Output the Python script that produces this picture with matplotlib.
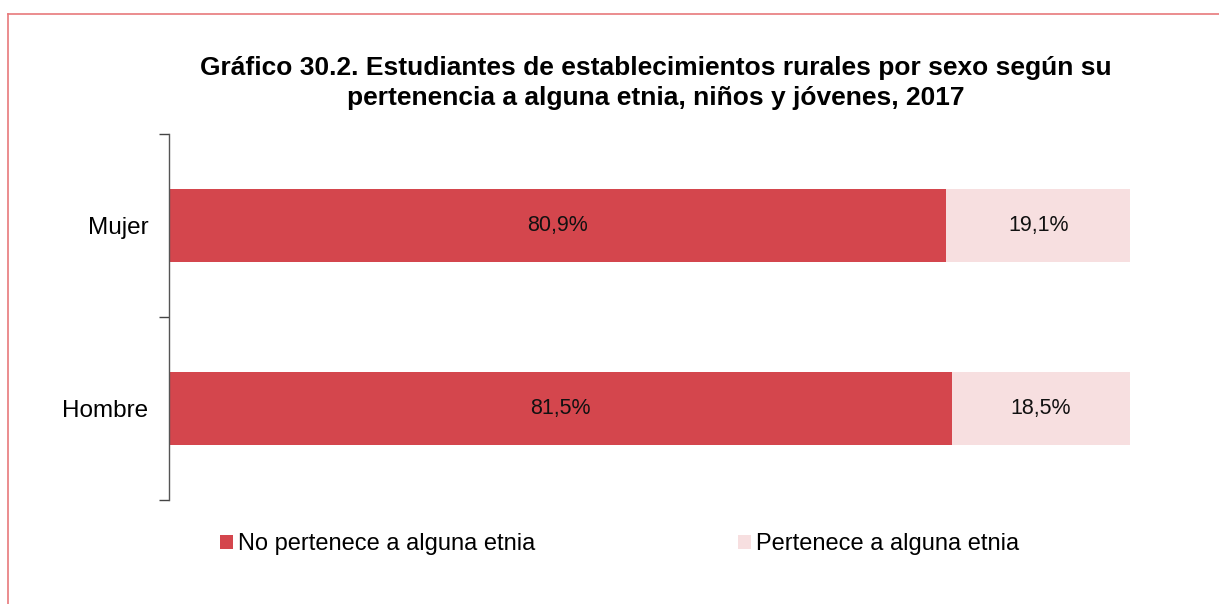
import matplotlib
matplotlib.use("Agg")
import matplotlib.pyplot as plt
from matplotlib.lines import Line2D

plt.rcParams['font.family'] = ['Liberation Sans', 'DejaVu Sans']

categories = ["Hombre", "Mujer"]
no_pertenece = [81.5, 80.9]
pertenece = [18.5, 19.1]
series_names = ["No pertenece a alguna etnia", "Pertenece a alguna etnia"]
title = "Gráfico 30.2. Estudiantes de establecimientos rurales por sexo según su\npertenencia a alguna etnia, niños y jóvenes, 2017"

c_dark = "#D4464D"
c_light = "#F7DFE0"

W, H = 1219, 604
fig = plt.figure(figsize=(W / 100, H / 100), dpi=100)
ax = fig.add_axes([169 / W, 1 - 500 / H, (1130 - 169) / W, (500 - 134) / H])

ypos = list(range(len(categories)))
b1 = ax.barh(ypos, no_pertenece, height=0.4, color=c_dark, label=series_names[0])
b2 = ax.barh(ypos, pertenece, left=no_pertenece, height=0.4, color=c_light, label=series_names[1])

for i in ypos:
    ax.text(no_pertenece[i] / 2, i, f"{no_pertenece[i]:.1f}%".replace(".", ","),
            ha="center", va="center", fontsize=15.5, color="#111111")
    ax.text(no_pertenece[i] + pertenece[i] / 2, i, f"{pertenece[i]:.1f}%".replace(".", ","),
            ha="center", va="center", fontsize=15.5, color="#111111")

ax.set_xlim(0, 100)
ax.set_ylim(-0.5, 1.5)
ax.set_yticks([-0.5, 0.5, 1.5])
ax.set_yticklabels([])
ax.set_yticks(ypos, minor=True)
ax.set_yticklabels(categories, minor=True, fontsize=17.5)
ax.tick_params(axis="y", which="major", length=7, width=1, color="#444444", direction="out")
ax.tick_params(axis="y", which="minor", length=0, pad=15)
ax.set_xticks([])
for s in ["top", "right", "bottom"]:
    ax.spines[s].set_visible(False)
ax.spines["left"].set_color("#555555")
ax.spines["left"].set_linewidth(1)

fig.text(656 / W, 1 - 83 / H, title, ha="center", va="center", fontsize=19,
         fontweight="bold", linespacing=1.33)

for h, lab, x0 in [(b1, series_names[0], 220), (b2, series_names[1], 738)]:
    fig.legend(handles=[h], labels=[lab], loc="center left",
               bbox_to_anchor=(x0 / W, 1 - 544 / H), frameon=False, fontsize=17,
               handlelength=0.55, handleheight=0.55, handletextpad=0.22,
               borderpad=0, borderaxespad=0)

border = "#E8797B"
fig.add_artist(Line2D([8 / W, 1], [1 - 14 / H, 1 - 14 / H], transform=fig.transFigure, color=border, lw=1.2))
fig.add_artist(Line2D([8 / W, 8 / W], [0, 1 - 14 / H], transform=fig.transFigure, color=border, lw=1.2))

fig.savefig("out.png", dpi=100)
